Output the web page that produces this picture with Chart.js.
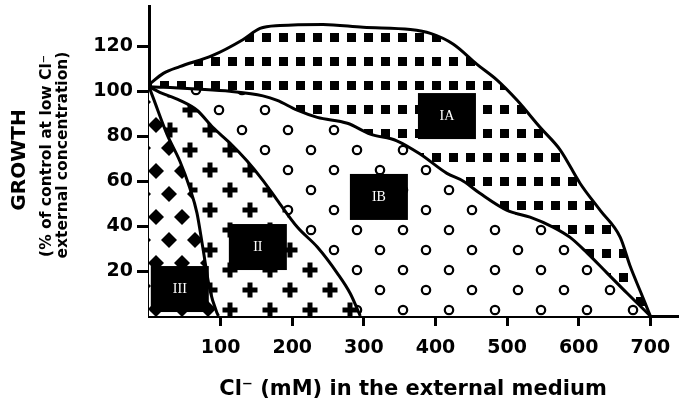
<!DOCTYPE html>
<html><head><meta charset="utf-8">
<script src="https://cdn.jsdelivr.net/npm/chart.js@4/dist/chart.umd.min.js"></script>
<style>html,body{margin:0;padding:0;background:#fff}</style>
</head><body>
<canvas id="c" width="679" height="409"></canvas>
<script>
// ---- data ----
const xTicks = [100, 200, 300, 400, 500, 600, 700];
const yTicks = [20, 40, 60, 80, 100, 120];

// upper boundary of zone IA
const topX = [0, 20, 43, 89, 131, 155, 183, 243, 299, 365, 393, 425, 458, 486, 514, 546, 574, 602, 630, 658, 672, 686, 700];
const topY = [103, 108, 111, 116, 123, 128, 129.3, 129.8, 128.5, 127.5, 125.8, 121, 112, 105, 96, 84, 74, 59, 47, 35, 22, 11, 0];
// boundary IA / IB
const abX = [0, 20, 67, 113, 159, 179, 207, 235, 277, 309, 346, 379, 416, 439, 462, 500, 532, 564, 588, 612, 640, 668, 700];
const abY = [102, 101.8, 101, 100, 98, 96, 91.6, 88.4, 85.8, 81, 78, 72, 63.5, 60, 54.6, 47, 44, 39.6, 35, 28, 19, 10, 0];
// boundary IB / II
const b2X = [0, 15, 43, 67, 89, 113, 137, 159, 179, 207, 235, 263, 281, 295];
const b2Y = [102, 99.6, 96, 91.6, 84, 77, 69, 60.4, 51.6, 39.6, 30.7, 19, 10, 0];
// boundary II / III
const c3X = [0, 6, 25, 43, 57, 67, 75, 85, 95, 97];
const c3Y = [102, 97, 81, 69, 57, 45.8, 30.7, 11.6, 1.3, 0];

const regionLabels = ['IA', 'IB', 'II', 'III'];
const labelX = [416, 321, 152, 43];
const labelY = [89, 53, 30.7, 12];

// ---- patterns ----
function makePattern(w, h, draw) {
  const c = document.createElement('canvas');
  c.width = w; c.height = h;
  const g = c.getContext('2d');
  g.fillStyle = '#fff'; g.fillRect(0, 0, w, h);
  g.fillStyle = '#000'; g.strokeStyle = '#000';
  draw(g);
  return g.createPattern(c, 'repeat');
}
const sqPat = makePattern(17, 24, g => { g.fillRect(7, 9, 9, 9); });
const circPat = makePattern(46, 40, g => {
  g.lineWidth = 2.2;
  [[12, 10], [35, 30]].forEach(([x, y]) => { g.beginPath(); g.arc(x, y, 4.2, 0, Math.PI * 2); g.stroke(); });
});
const plusPat = makePattern(40, 40, g => {
  [[10, 10], [30, 30]].forEach(([x, y]) => { g.fillRect(x - 7.5, y - 2.5, 15, 5); g.fillRect(x - 2.5, y - 7.5, 5, 15); });
});
const diaPat = makePattern(26, 46, g => {
  [[13, 10], [0, 33], [26, 33]].forEach(([x, y]) => {
    g.beginPath(); g.moveTo(x, y - 8); g.lineTo(x + 8, y); g.lineTo(x, y + 8); g.lineTo(x - 8, y); g.closePath(); g.fill();
  });
});

const pts = (xs, ys) => xs.map((x, i) => ({ x, y: ys[i] }));
const lineStyle = { borderColor: '#000', borderWidth: 3, pointRadius: 0, cubicInterpolationMode: 'monotone', fill: 'origin' };

const boxPlugin = {
  id: 'boxes',
  afterDatasetsDraw(chart) {
    const { ctx, scales: { x, y } } = chart;
    ctx.save();
    regionLabels.forEach((t, i) => {
      const cx = x.getPixelForValue(labelX[i]), cy = y.getPixelForValue(labelY[i]);
      ctx.fillStyle = '#000';
      ctx.fillRect(cx - 29, cy - 23, 58, 46);
      ctx.fillStyle = '#fff';
      ctx.font = '14px "Liberation Serif"';
      ctx.textAlign = 'center'; ctx.textBaseline = 'middle';
      ctx.fillText(t, cx, cy);
    });
    ctx.restore();
  }
};
const titlePlugin = {
  id: 'titles',
  afterDraw(chart) {
    const ctx = chart.ctx;
    ctx.save();
    ctx.fillStyle = '#000';
    ctx.textAlign = 'center'; ctx.textBaseline = 'middle';
    ctx.font = 'bold 21px "DejaVu Sans"';
    ctx.fillText('Cl\u207B (mM) in the external medium', 413, 390);
    ctx.save(); ctx.translate(20, 160); ctx.rotate(-Math.PI / 2);
    ctx.font = 'bold 20px "DejaVu Sans"'; ctx.fillText('GROWTH', 0, 0); ctx.restore();
    ctx.save(); ctx.translate(47, 156); ctx.rotate(-Math.PI / 2);
    ctx.font = 'bold 15.5px "DejaVu Sans"'; ctx.fillText('(% of control at low Cl\u207B', 0, 0); ctx.restore();
    ctx.save(); ctx.translate(63, 155); ctx.rotate(-Math.PI / 2);
    ctx.font = 'bold 15.5px "DejaVu Sans"'; ctx.fillText('external concentration)', 0, 0); ctx.restore();
    ctx.restore();
  }
};

new Chart(document.getElementById('c'), {
  type: 'line',
  data: {
    datasets: [
      Object.assign({ data: pts(topX, topY), backgroundColor: sqPat, order: 4 }, lineStyle),
      Object.assign({ data: pts(abX, abY), backgroundColor: circPat, order: 3 }, lineStyle),
      Object.assign({ data: pts(b2X, b2Y), backgroundColor: plusPat, order: 2 }, lineStyle),
      Object.assign({ data: pts(c3X, c3Y), backgroundColor: diaPat, order: 1 }, lineStyle)
    ]
  },
  options: {
    responsive: false, animation: false, devicePixelRatio: 1,
    layout: { padding: { top: 6, left: 0, right: 0, bottom: 0 } },
    plugins: { legend: { display: false }, tooltip: { enabled: false } },
    scales: {
      x: {
        type: 'linear', min: 0, max: 740,
        afterBuildTicks: s => { s.ticks = xTicks.map(v => ({ value: v })); },
        afterFit: s => { s.height = 93; s.paddingLeft = 0; s.paddingRight = 0; },
        grid: { drawOnChartArea: false, drawTicks: true, tickLength: 10, tickWidth: 3, tickColor: '#000' },
        border: { display: true, color: '#000', width: 3 },
        ticks: { color: '#000', padding: 11, maxRotation: 0, font: { family: 'DejaVu Sans', weight: 'bold', size: 19 } }
      },
      y: {
        type: 'linear', min: 0, max: 138,
        afterBuildTicks: s => { s.ticks = yTicks.map(v => ({ value: v })); },
        afterFit: s => { s.width = 149; s.paddingTop = 0; s.paddingBottom = 0; },
        grid: { drawOnChartArea: false, drawTicks: true, tickLength: 12, tickWidth: 3, tickColor: '#000' },
        border: { display: true, color: '#000', width: 3 },
        ticks: { color: '#000', padding: 4, font: { family: 'DejaVu Sans', weight: 'bold', size: 19 } }
      }
    }
  },
  plugins: [boxPlugin, titlePlugin]
});
</script>
</body></html>
